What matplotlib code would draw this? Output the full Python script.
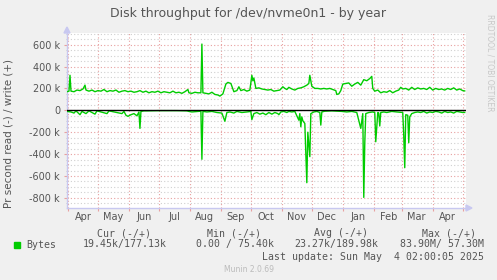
import datetime

import matplotlib

matplotlib.use("Agg")
import matplotlib.dates as mdates
import matplotlib.pyplot as plt
from matplotlib.ticker import FuncFormatter, MultipleLocator

# data: days since 2024-03-31, values in k bytes/s
write_days = [0, 2, 3, 4, 7, 10, 13, 16, 18, 19, 22, 25, 28, 31, 34, 37, 40, 43, 46, 49,
              52, 55, 58, 61, 64, 67, 70, 73, 76, 79, 82, 85, 88, 91, 94, 97, 100, 103, 106,
              109, 112, 115, 118, 121, 122, 125, 128, 131, 134, 135, 136, 139, 142, 145, 148,
              151, 153, 156, 159, 161, 164, 167, 170, 172, 174, 177, 180, 183, 185, 186, 187,
              189, 192, 195, 198, 201, 204, 207, 210, 213, 216, 218, 220, 222, 225, 228, 231,
              234, 237, 240, 242, 243, 245, 248, 251, 254, 257, 260, 263, 266, 269, 270, 272,
              274, 276, 279, 282, 285, 288, 291, 294, 297, 300, 303, 305, 306, 308, 311, 314,
              317, 320, 323, 326, 329, 332, 334, 336, 339, 342, 345, 348, 351, 354, 357, 360,
              363, 366, 369, 372, 375, 378, 381, 384, 387, 390, 393, 396, 398]
write_k = [170, 175, 320, 175, 170, 185, 180, 195, 230, 185, 175, 185, 170, 180, 175, 190, 170,
           180, 175, 185, 165, 175, 180, 170, 175, 165, 170, 180, 165, 175, 160, 170, 165, 175,
           160, 170, 165, 160, 175, 160, 165, 155, 170, 190, 160, 155, 165, 160, 160, 605, 160,
           155, 150, 165, 145, 140, 130, 150, 240, 255, 245, 170, 180, 215, 180, 190, 175, 185,
           320, 270, 295, 200, 205, 195, 190, 185, 190, 175, 180, 185, 215, 200, 190, 210, 195,
           185, 200, 205, 215, 230, 245, 320, 220, 200, 200, 195, 200, 195, 200, 190, 180, 145,
           150, 180, 240, 245, 250, 220, 240, 255, 230, 280, 270, 290, 310, 200, 175, 185, 160,
           170, 165, 180, 160, 175, 185, 210, 195, 200, 185, 210, 190, 205, 195, 200, 190, 210,
           185, 200, 190, 195, 185, 200, 190, 205, 185, 195, 180, 177]

read_days = [0, 4, 7, 9, 13, 15, 19, 22, 28, 30, 40, 42, 55, 57, 59, 61, 64, 67, 70, 72, 73,
             74, 77, 80, 91, 100, 110, 120, 122, 125, 134, 135, 136, 140, 145, 150, 155, 158,
             160, 163, 167, 170, 175, 180, 184, 185, 187, 190, 193, 196, 199, 202, 205, 208,
             211, 212, 214, 217, 220, 222, 225, 228, 232, 233, 234, 235, 236, 238, 240, 241,
             243, 244, 247, 250, 253, 254, 255, 258, 265, 275, 280, 285, 290, 294, 296, 297,
             298, 299, 302, 306, 308, 309, 311, 312, 313, 314, 317, 320, 325, 330, 336, 337,
             338, 339, 341, 342, 343, 345, 348, 351, 354, 357, 360, 363, 366, 369, 372, 375,
             378, 381, 384, 387, 390, 393, 396, 398]
read_k = [10, 15, 25, 5, 40, 10, 30, 5, 35, 5, 30, 5, 30, 10, 45, 55, 40, 30, 50, 15, 165, 10,
          5, 5, 3, 3, 3, 5, 10, 15, 8, 447, 10, 15, 10, 20, 25, 100, 20, 15, 25, 10, 20, 15, 10,
          85, 30, 20, 35, 25, 40, 20, 35, 20, 30, 40, 15, 10, 20, 10, 15, 10, 90, 30, 150, 60,
          95, 120, 661, 200, 423, 30, 15, 10, 20, 135, 15, 8, 5, 10, 15, 10, 20, 165, 30, 795,
          300, 30, 20, 15, 20, 287, 20, 25, 143, 20, 15, 20, 10, 15, 20, 230, 524, 40, 45, 296,
          60, 30, 20, 15, 20, 10, 25, 15, 20, 10, 15, 25, 10, 20, 15, 25, 10, 15, 20, 19.45]

month_labels = ["Apr", "May", "Jun", "Jul", "Aug", "Sep", "Oct", "Nov", "Dec",
                "Jan", "Feb", "Mar", "Apr"]

W, H = 497, 280
GREEN = "#00CC00"
TXT = "#555555"


def fx(px):
    return px / W


def fy(py):
    return 1 - py / H


base = datetime.datetime(2024, 3, 31)
wx = [base + datetime.timedelta(days=d) for d in write_days]
rx = [base + datetime.timedelta(days=d) for d in read_days]

fig = plt.figure(figsize=(W / 100, H / 100), dpi=100)
fig.patch.set_facecolor("#F0F0F0")
ax = fig.add_axes([fx(67), fy(208), fx(466) - fx(67), fy(33) - fy(208)])
ax.set_facecolor("#FFFFFF")

ax.plot(wx, [v * 1000 for v in write_k], color=GREEN, lw=1.0, zorder=3)
ax.plot(rx, [-v * 1000 for v in read_k], color=GREEN, lw=1.0, zorder=3)
ax.axhline(0, color="black", lw=1.0, zorder=4)

ax.set_xlim(base, base + datetime.timedelta(days=399.3))
ax.set_ylim(-892000, 706000)

# grid
ax.yaxis.set_major_locator(MultipleLocator(200000))
ax.yaxis.set_minor_locator(MultipleLocator(50000))
ax.yaxis.set_major_formatter(FuncFormatter(lambda v, p: "0" if v == 0 else f"{int(v / 1000)} k"))
ax.xaxis.set_major_locator(mdates.MonthLocator(bymonthday=1))
ax.xaxis.set_minor_locator(mdates.MonthLocator(bymonthday=16))
ax.xaxis.set_major_formatter(plt.NullFormatter())
ax.xaxis.set_minor_formatter(mdates.DateFormatter("%b"))
ax.grid(which="minor", axis="y", color="#d0d0d0", linestyle=(0, (1, 2)), lw=0.8)
ax.grid(which="major", axis="y", color="#e8a0a0", linestyle=(0, (1, 2)), lw=0.8)
ax.grid(which="major", axis="x", color="#e8a0a0", linestyle=(0, (1, 2)), lw=0.8)
ax.tick_params(axis="y", which="major", length=2, color="#e8a0a0", labelsize=7, labelcolor=TXT, pad=3)
ax.tick_params(axis="y", which="minor", length=1, color="#c0c0c0")
ax.tick_params(axis="x", which="major", length=2, color="#e8a0a0")
ax.tick_params(axis="x", which="minor", length=0, labelsize=7, labelcolor=TXT, pad=3)

for s in ("top", "right"):
    ax.spines[s].set_visible(False)
for s in ("left", "bottom"):
    ax.spines[s].set_color("#c8c8f0")
    ax.spines[s].set_linewidth(1.0)

# axis arrows
fig.add_artist(matplotlib.patches.FancyArrow(fx(466), fy(208), fx(6), 0, width=0,
               head_width=fy(0) - fy(6), head_length=fx(6), color="#c8c8f0",
               length_includes_head=True, transform=fig.transFigure))
fig.add_artist(matplotlib.patches.FancyArrow(fx(67), fy(33), 0, fy(0) - fy(6), width=0,
               head_width=fx(6), head_length=fy(0) - fy(6), color="#c8c8f0",
               length_includes_head=True, transform=fig.transFigure))

# labels
fig.text(fx(248), fy(13), "Disk throughput for /dev/nvme0n1 - by year", ha="center",
         va="center", fontsize=9, color=TXT)
fig.text(fx(9), fy(133), "Pr second read (-) / write (+)", rotation=90, ha="center",
         va="center", fontsize=7.5, color=TXT)
fig.text(fx(490), fy(14), "RRDTOOL / TOBI OETIKER", rotation=-90, ha="center", va="top",
         fontsize=5.5, color="#c8c8c8")

# legend
mono = dict(family="DejaVu Sans Mono", fontsize=7.1, color=TXT, va="center")
for x_end, head in [(151, "Cur (-/+)"), (261, "Min (-/+)"), (368, "Avg (-/+)"), (476, "Max (-/+)")]:
    fig.text(fx(x_end), fy(233), head, ha="right", **mono)
fig.add_artist(matplotlib.patches.Rectangle((fx(13.5), fy(247.5)), fx(6), fy(0) - fy(6),
               color=GREEN, transform=fig.transFigure))
fig.text(fx(26), fy(244.5), "Bytes", ha="left", **mono)
for x_end, val in [(167, "19.45k/177.13k"), (273.5, "0.00 / 75.40k"), (378, "23.27k/189.98k"),
                   (483.5, "83.90M/ 57.30M")]:
    fig.text(fx(x_end), fy(244.5), val, ha="right", **mono)
fig.text(fx(483.5), fy(256.5), "Last update: Sun May  4 02:00:05 2025", ha="right", **mono)
fig.text(fx(249), fy(269.5), "Munin 2.0.69", ha="center", va="center", fontsize=5.5,
         color="#bbbbbb")

fig.savefig("out.png", dpi=100, facecolor=fig.get_facecolor())
